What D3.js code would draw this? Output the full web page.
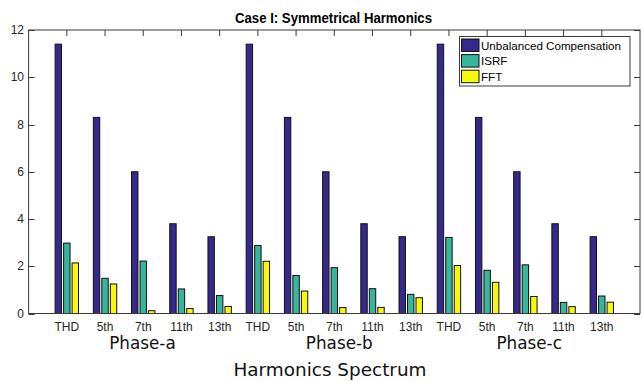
<!DOCTYPE html>
<html>
<head>
<meta charset="utf-8">
<script src="https://cdn.jsdelivr.net/npm/d3@7"></script>
<style>
  html, body { margin: 0; padding: 0; background: #fff; }
  svg { display: block; }
</style>
</head>
<body>
<svg id="chart" width="642" height="381"></svg>
<script>
// ---- data ----
const categories = ["THD","5th","7th","11th","13th","THD","5th","7th","11th","13th","THD","5th","7th","11th","13th"];
const seriesNames = ["Unbalanced Compensation", "ISRF", "FFT"];
const unbalanced = [11.4, 8.3, 6.0, 3.8, 3.25, 11.4, 8.3, 6.0, 3.8, 3.25, 11.4, 8.3, 6.0, 3.8, 3.25];
const isrf       = [2.98, 1.49, 2.22, 1.04, 0.76, 2.88, 1.61, 1.94, 1.05, 0.81, 3.22, 1.83, 2.06, 0.47, 0.74];
const fft        = [2.14, 1.25, 0.12, 0.21, 0.30, 2.21, 0.95, 0.25, 0.26, 0.67, 2.03, 1.32, 0.72, 0.29, 0.48];
const yTicks = [0, 2, 4, 6, 8, 10, 12];
const phaseLabels = ["Phase-a", "Phase-b", "Phase-c"];
const phaseLabelPos = [2.98, 8.13, 13.1];
const title = "Case I: Symmetrical Harmonics";
const xTitle = "Harmonics Spectrum";

const colors = ["#35298a", "#37b69b", "#f8f80c"];
const series = [unbalanced, isrf, fft];

// ---- layout ----
const svg = d3.select("#chart");
const L = 28.6, R = 640, T = 30, B = 313.5;
const x = d3.scaleLinear().domain([0, 16]).range([L, R]);
const y = d3.scaleLinear().domain([0, 12]).range([B, T]);
const axisColor = "#3a3a3a";
const tickLen = 6;

// inner ticks (drawn under bars)
const gt = svg.append("g");
categories.forEach((c, i) => {
  const xp = x(i + 1);
  gt.append("line").attr("x1", xp).attr("x2", xp).attr("y1", T).attr("y2", T + tickLen)
    .attr("stroke", axisColor).attr("stroke-width", 1);
  gt.append("line").attr("x1", xp).attr("x2", xp).attr("y1", B).attr("y2", B - tickLen)
    .attr("stroke", axisColor).attr("stroke-width", 1);
});
yTicks.forEach(v => {
  const yp = Math.round(y(v)) + 0.5;
  gt.append("line").attr("x1", L).attr("x2", L + tickLen).attr("y1", yp).attr("y2", yp)
    .attr("stroke", axisColor);
  gt.append("line").attr("x1", R).attr("x2", R - tickLen).attr("y1", yp).attr("y2", yp)
    .attr("stroke", axisColor);
});

// bars
const offset = 0.2222, bw = 0.168;
series.forEach((vals, k) => {
  svg.append("g").selectAll("rect").data(vals).join("rect")
    .attr("x", (d, i) => x(i + 1 + (k - 1) * offset - bw / 2))
    .attr("width", x(bw) - x(0))
    .attr("y", d => y(d))
    .attr("height", d => y(0) - y(d))
    .attr("fill", colors[k])
    .attr("stroke", "#111")
    .attr("stroke-width", 1);
});

// frame
svg.append("rect").attr("x", L).attr("y", T).attr("width", R - L).attr("height", B - T)
  .attr("fill", "none").attr("stroke", axisColor).attr("stroke-width", 1);

// y tick labels
svg.append("g").selectAll("text").data(yTicks).join("text")
  .attr("x", 24).attr("y", d => y(d) + 4.2)
  .attr("text-anchor", "end")
  .attr("font-family", "Liberation Sans, Arial, sans-serif")
  .attr("font-size", 12).attr("fill", "#262626")
  .text(d => d);

// x tick labels
svg.append("g").selectAll("text").data(categories).join("text")
  .attr("x", (d, i) => x(i + 1)).attr("y", 331)
  .attr("text-anchor", "middle")
  .attr("font-family", "Liberation Sans, Arial, sans-serif")
  .attr("font-size", 12).attr("fill", "#262626")
  .text(d => d);

// phase labels
svg.append("g").selectAll("text").data(phaseLabels).join("text")
  .attr("x", (d, i) => x(phaseLabelPos[i])).attr("y", 348.5)
  .attr("text-anchor", "middle")
  .attr("font-family", "DejaVu Sans, sans-serif")
  .attr("font-size", 16.8).attr("fill", "#111")
  .text(d => d);

// x axis title
svg.append("text").attr("x", 330).attr("y", 375.5)
  .attr("text-anchor", "middle")
  .attr("font-family", "DejaVu Sans, sans-serif")
  .attr("font-size", 18).attr("fill", "#111")
  .attr("textLength", 193).attr("lengthAdjust", "spacingAndGlyphs")
  .text(xTitle);

// title
svg.append("text").attr("x", 333.5).attr("y", 23)
  .attr("text-anchor", "middle")
  .attr("font-family", "Liberation Sans Narrow, Liberation Sans, Arial, sans-serif")
  .attr("font-size", 14.5).attr("font-weight", "bold").attr("fill", "#000")
  .attr("textLength", 197).attr("lengthAdjust", "spacingAndGlyphs")
  .text(title);

// legend
const lg = svg.append("g");
lg.append("rect").attr("x", 459.5).attr("y", 36.5).attr("width", 170.5).attr("height", 49.5)
  .attr("fill", "#fff").attr("stroke", axisColor).attr("stroke-width", 1);
seriesNames.forEach((name, k) => {
  const yy = 39 + k * 15.6;
  lg.append("rect").attr("x", 461.5).attr("y", yy).attr("width", 17.5).attr("height", 12.5)
    .attr("fill", colors[k]).attr("stroke", "#111").attr("stroke-width", 1);
  lg.append("text").attr("x", 481).attr("y", yy + 10.8)
    .attr("font-family", "Liberation Sans, Arial, sans-serif")
    .attr("font-size", 11.6).attr("fill", "#000")
    .text(name);
});
</script>
</body>
</html>
